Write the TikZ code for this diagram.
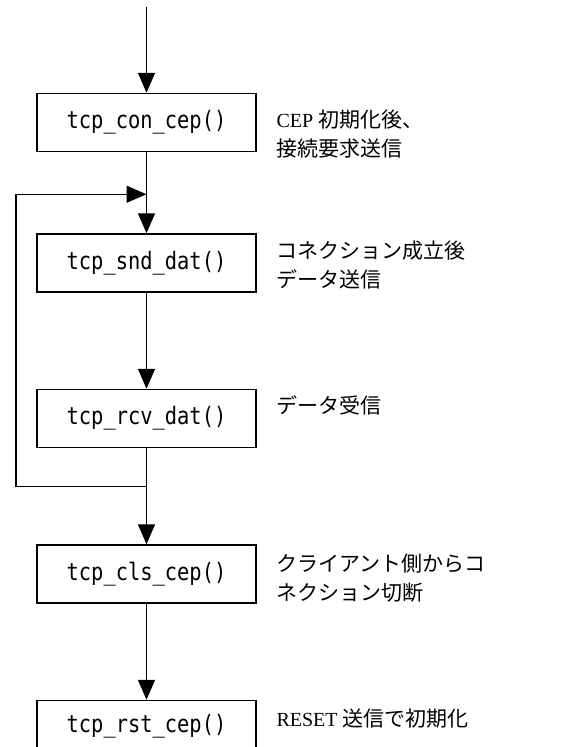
\documentclass[tikz,border=0pt]{standalone}
\usepackage{fontspec}
\setmainfont{Liberation Serif}
\newfontfamily\jpfont[Scale=1.05]{Noto Sans CJK JP}
\newfontfamily\funcfont[FakeStretch=0.85]{DejaVu Sans Mono}
\usetikzlibrary{positioning,arrows.meta}

\tikzset{
	func/.style={draw, minimum width=219pt, minimum height=58pt, inner sep=0pt, font=\funcfont\fontsize{24pt}{24pt}\selectfont},
	note/.style={anchor=north west, align=left, inner sep=0pt, font=\fontsize{20pt}{29pt}\selectfont},
}

\begin{document}
\begin{tikzpicture}[>={Triangle[length=20pt,width=17pt]}, line width=1.5pt]
	\useasboundingbox (0,0) rectangle (576pt,-747pt);
	% \fill [white] (0,0) rectangle (576pt,-747pt);
	\node [func] (con) at (146.5pt,-122.5pt) {tcp\_con\_cep()};
	\node [func, below=81pt of con] (snd) {tcp\_snd\_dat()};
	\node [func, below=96pt of snd] (rcv) {tcp\_rcv\_dat()};
	\node [func, below=96pt of rcv] (cls) {tcp\_cls\_cep()};
	\node [func, below=96pt of cls, minimum height=52pt] (rst) {tcp\_rst\_cep()};
	\node [note] (conNote) at ([shift={(19pt,-16pt)}]con.north east) {CEP {\jpfont 初期化後、}\\{\jpfont 接続要求送信}};
	\node [note] (sndNote) at ([shift={(19pt,-7pt)}]snd.north east) {{\jpfont コネクション成立後}\\{\jpfont データ送信}};
	\node [note] (rcvNote) at ([shift={(19pt,-6pt)}]rcv.north east) {{\jpfont データ受信}};
	\node [note] (clsNote) at ([shift={(19pt,-9pt)}]cls.north east) {{\jpfont クライアント側からコ}\\{\jpfont ネクション切断}};
	\node [note] (rstNote) at ([shift={(19pt,-8pt)}]rst.north east) {RESET {\jpfont 送信で初期化}};
	\coordinate (start) at (146.5pt,-7pt);
	\coordinate (loopin) at ([yshift=-42pt]con.south);
	\coordinate (loopout) at ([yshift=-38pt]rcv.south);
	\draw [->] (start) -- (con);
	\draw [->] (con) -- (snd);
	\draw [->] (snd) -- (rcv);
	\draw [->] (rcv) -- (cls);
	\draw [->] (cls) -- (rst);
	\draw [->] (loopout) -- ++(-130.5pt,0) |- (loopin);
\end{tikzpicture}
\end{document}
